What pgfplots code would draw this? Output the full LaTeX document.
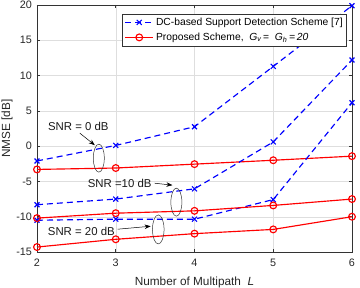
\documentclass[border=0pt]{standalone}
\usepackage{fontspec}
\setmainfont{Liberation Sans}
\usepackage{pgfplots}
\pgfplotsset{compat=1.18}
\usetikzlibrary{arrows.meta}
\newcommand{\fs}{\fontsize{10.3}{12}\selectfont}
\newcommand{\ft}{\fontsize{10.8}{12}\selectfont}
\newcommand{\fl}{\fontsize{11.8}{13}\selectfont}
\newcommand{\fa}{\fontsize{11.4}{13}\selectfont}
\begin{document}
\fs
\begin{tikzpicture}
\begin{axis}[
  scale only axis, width=315pt, height=247pt,
  xmin=2, xmax=6, ymin=-15, ymax=20,
  xtick={2,3,4,5,6}, ytick={-15,-10,...,20},
  tick align=inside, xtick pos=both, ytick pos=both,
  major tick length=3pt,
  grid=major, major grid style={black!13, line width=0.4pt},
  axis line style={black!80, line width=0.5pt},
  tick style={black!80, line width=0.5pt},
  ticklabel style={font=\ft, text=black!85},
  xticklabel style={yshift=-3pt},
  yticklabel style={xshift=-1.5pt},
  /pgf/number format/assume math mode=true,
  xlabel={Number of Multipath\ \ \textit{L}},
  ylabel={NMSE [dB]},
  label style={font=\fl, text=black!85},
  xlabel style={at={(axis description cs:0.5,-0.1215)}, anchor=center},
  ylabel style={at={(axis description cs:-0.095,0.5)}, anchor=center},
  clip=false,
  legend style={at={(0.984,0.965)}, anchor=north east, draw=black!80, fill=white,
    font=\fs, inner sep=2pt, row sep=2pt, line width=0.5pt},
  legend cell align=left,
  legend image code/.code={\draw[mark repeat=2,mark phase=2] plot coordinates {(0cm,0cm) (0.5cm,0cm) (1cm,0cm)};},
  dc/.style={blue, line width=1.15pt, dash pattern=on 6pt off 4pt, mark=x, mark size=3.5pt, mark options={solid}},
  pr/.style={red, line width=1.15pt, mark=o, mark size=3.4pt, mark options={solid}},
]
\addplot[dc] coordinates {(2,-2.1) (3,0.1) (4,2.75) (5,11.3) (6,19.9)};
\addlegendentry{DC-based Support Detection Scheme [7]}
\addplot[pr] coordinates {(2,-3.3) (3,-3.1) (4,-2.55) (5,-2.0) (6,-1.42)};
\addlegendentry{Proposed Scheme,\ \ \textit{G\textsubscript{v}}\,=\ \ \textit{G\textsubscript{h}\,=\,20}}
\addplot[dc, forget plot] coordinates {(2,-8.3) (3,-7.5) (4,-6.05) (5,0.6) (6,12.2)};
\addplot[dc, forget plot] coordinates {(2,-10.5) (3,-10.35) (4,-10.35) (5,-7.57) (6,6.15)};
\addplot[pr, forget plot] coordinates {(2,-10.2) (3,-9.5) (4,-9.17) (5,-8.4) (6,-7.5)};
\addplot[pr, forget plot] coordinates {(2,-14.3) (3,-13.2) (4,-12.4) (5,-11.8) (6,-10.0)};

\node[font=\fa, text=black!90] at (axis cs:2.525,2.84) {SNR = 0 dB};
\draw[black, line width=0.5pt, -{Stealth[length=6pt,width=4.5pt]}] (axis cs:2.544,1.84) -- (axis cs:2.734,0.14);
\draw[black!80, line width=0.5pt] (axis cs:2.785,-1.7) ellipse [x radius=5.5pt, y radius=14pt];

\node[font=\fa, text=black!90] at (axis cs:3.05,-5.25) {SNR =10 dB};
\draw[black, line width=0.5pt, -{Stealth[length=6pt,width=4.5pt]}] (axis cs:3.494,-5.25) -- (axis cs:3.72,-5.53);
\draw[black!80, line width=0.5pt] (axis cs:3.77,-7.94) ellipse [x radius=5.5pt, y radius=14pt];

\node[font=\fa, text=black!90] at (axis cs:2.563,-12.06) {SNR = 20 dB};
\draw[black, line width=0.5pt, -{Stealth[length=6pt,width=4.5pt]}] (axis cs:3.025,-11.77) -- (axis cs:3.443,-11.35);
\draw[black!80, line width=0.5pt] (axis cs:3.54,-11.8) ellipse [x radius=5.8pt, y radius=14.5pt];
\end{axis}
\pgfresetboundingbox
\path (-37pt,-36pt) rectangle (323pt,252pt);
\end{tikzpicture}
\end{document}
